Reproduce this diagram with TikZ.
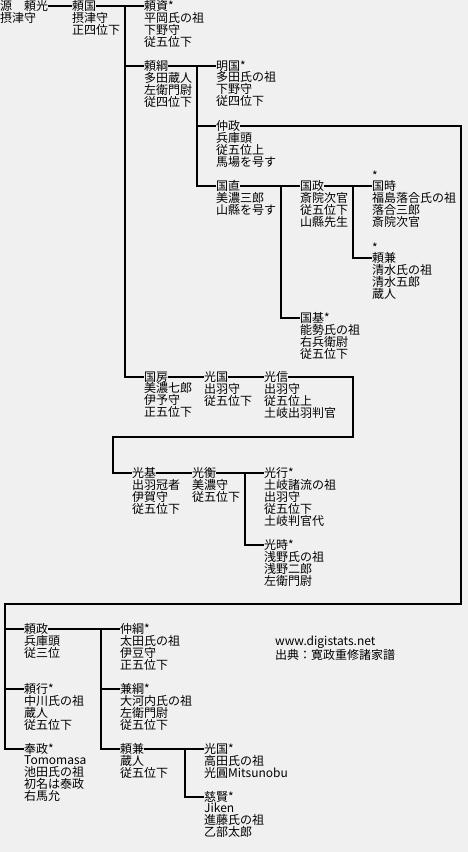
\documentclass[tikz,border=0pt]{standalone}
\usepackage{fontspec}
\setmainfont{Noto Sans CJK JP}
\usetikzlibrary{positioning, calc}
\definecolor{paper}{HTML}{F0F0F0}
\tikzset{
  pname/.style={font=\fontsize{12}{12}\selectfont, inner sep=0pt, anchor=west},
  pinfo/.style={font=\fontsize{12}{12}\selectfont, inner sep=0pt, align=left, anchor=north west},
  kin/.style={line width=2pt, black},
}

\begin{document}
\begin{tikzpicture}[x=1pt, y=-1pt]
  \fill[paper] (0,0) rectangle (468,852);
  \node[pname] (yorimitsu) at (0,6) {源　頼光};
  \node[pinfo] (yorimitsu-i) at (yorimitsu.south west) {摂津守};
  \node[pname] (yorikuni) at (72,6) {頼国};
  \node[pinfo] (yorikuni-i) at (yorikuni.south west) {摂津守\\正四位下};
  \node[pname] (yorisuke) at (144,6) {頼資*};
  \node[pinfo] (yorisuke-i) at (yorisuke.south west) {平岡氏の祖\\下野守\\従五位下};
  \node[pname] (yoritsuna) at (144,66) {頼綱};
  \node[pinfo] (yoritsuna-i) at (yoritsuna.south west) {多田蔵人\\左衛門尉\\従四位下};
  \node[pname] (akikuni) at (216,66) {明国*};
  \node[pinfo] (akikuni-i) at (akikuni.south west) {多田氏の祖\\下野守\\従四位下};
  \node[pname] (nakamasa) at (216,126) {仲政};
  \node[pinfo] (nakamasa-i) at (nakamasa.south west) {兵庫頭\\従五位上\\馬場を号す};
  \node[pname] (kuninao) at (216,186) {国直};
  \node[pinfo] (kuninao-i) at (kuninao.south west) {美濃三郎\\山縣を号す};
  \node[pname] (kunimasa) at (300,186) {国政};
  \node[pinfo] (kunimasa-i) at (kunimasa.south west) {斎院次官\\従五位下\\山縣先生};
  \node[pname] (kunitoki) at (372,186) {国時};
  \node[pname, anchor=south west] (kunitoki-s) at (kunitoki.north west) {*};
  \node[pinfo] (kunitoki-i) at (kunitoki.south west) {福島落合氏の祖\\落合三郎\\斎院次官};
  \node[pname] (yorikaneA) at (372,258) {頼兼};
  \node[pname, anchor=south west] (yorikaneA-s) at (yorikaneA.north west) {*};
  \node[pinfo] (yorikaneA-i) at (yorikaneA.south west) {清水氏の祖\\清水五郎\\蔵人};
  \node[pname] (kunimoto) at (300,318) {国基*};
  \node[pinfo] (kunimoto-i) at (kunimoto.south west) {能勢氏の祖\\右兵衛尉\\従五位下};
  \node[pname] (kunifusa) at (144,377) {国房};
  \node[pinfo] (kunifusa-i) at (kunifusa.south west) {美濃七郎\\伊予守\\正五位下};
  \node[pname] (mitsukuniA) at (204,377) {光国};
  \node[pinfo] (mitsukuniA-i) at (mitsukuniA.south west) {出羽守\\従五位下};
  \node[pname] (mitsunobu) at (264,377) {光信};
  \node[pinfo] (mitsunobu-i) at (mitsunobu.south west) {出羽守\\従五位上\\土岐出羽判官};
  \node[pname] (mitsumoto) at (132,473) {光基};
  \node[pinfo] (mitsumoto-i) at (mitsumoto.south west) {出羽冠者\\伊賀守\\従五位下};
  \node[pname] (mitsuhira) at (192,473) {光衡};
  \node[pinfo] (mitsuhira-i) at (mitsuhira.south west) {美濃守\\従五位下};
  \node[pname] (mitsuyuki) at (264,473) {光行*};
  \node[pinfo] (mitsuyuki-i) at (mitsuyuki.south west) {土岐諸流の祖\\出羽守\\従五位下\\土岐判官代};
  \node[pname] (mitsutoki) at (264,545) {光時*};
  \node[pinfo] (mitsutoki-i) at (mitsutoki.south west) {浅野氏の祖\\浅野二郎\\左衛門尉};
  \node[pname] (yorimasa) at (24,629) {頼政};
  \node[pinfo] (yorimasa-i) at (yorimasa.south west) {兵庫頭\\従三位};
  \node[pname] (nakatsuna) at (120,629) {仲綱*};
  \node[pinfo] (nakatsuna-i) at (nakatsuna.south west) {太田氏の祖\\伊豆守\\正五位下};
  \node[pname] (yoriyuki) at (24,689) {頼行*};
  \node[pinfo] (yoriyuki-i) at (yoriyuki.south west) {中川氏の祖\\蔵人\\従五位下};
  \node[pname] (kanetsuna) at (120,689) {兼綱*};
  \node[pinfo] (kanetsuna-i) at (kanetsuna.south west) {大河内氏の祖\\左衛門尉\\従五位下};
  \node[pname] (tomomasa) at (24,749) {奉政*};
  \node[pinfo] (tomomasa-i) at (tomomasa.south west) {\vphantom{国}Tomomasa\\池田氏の祖\\初名は泰政\\右馬允};
  \node[pname] (yorikaneB) at (120,749) {頼兼};
  \node[pinfo] (yorikaneB-i) at (yorikaneB.south west) {蔵人\\従五位下};
  \node[pname] (mitsukuniB) at (204,749) {光国*};
  \node[pinfo] (mitsukuniB-i) at (mitsukuniB.south west) {高田氏の祖\\光圓Mitsunobu};
  \node[pname] (jiken) at (204,797) {慈賢*};
  \node[pinfo] (jiken-i) at (jiken.south west) {\vphantom{国}Jiken\\進藤氏の祖\\乙部太郎};
  \node[pinfo] (source) at (275,636) {www.digistats.net\\出典：寛政重修諸家譜};

  \coordinate (j1) at (125,0);
  \coordinate (j2) at (197,0);
  \coordinate (j3) at (281,0);
  \coordinate (j4) at (353,0);
  \coordinate (j5) at (245,0);
  \coordinate (j6) at (101,0);
  \coordinate (j7) at (185,0);
  \coordinate (s1) at (353,437);
  \coordinate (s2) at (113,437);
  \coordinate (r1) at (461,604);
  \coordinate (l1) at (5,604);

  \draw[kin] (yorimitsu.east) -- (yorikuni.west);
  \draw[kin] (yorikuni.east) -- (yorisuke.west);
  \draw[kin] (j1 |- yorisuke.west) |- (kunifusa.west);
  \draw[kin] (j1 |- yoritsuna.west) -- (yoritsuna.west);
  \draw[kin] (yoritsuna.east) -- (akikuni.west);
  \draw[kin] (j2 |- akikuni.west) |- (kuninao.west);
  \draw[kin] (j2 |- nakamasa.west) -- (nakamasa.west);
  \draw[kin] (kuninao.east) -- (kunimasa.west);
  \draw[kin] (j3 |- kunimasa.west) |- (kunimoto.west);
  \draw[kin] (kunimasa.east) -- (kunitoki.west);
  \draw[kin] (j4 |- kunitoki.west) |- (yorikaneA.west);
  \draw[kin] (kunifusa.east) -- (mitsukuniA.west);
  \draw[kin] (mitsukuniA.east) -- (mitsunobu.west);
  \draw[kin] (mitsunobu.east) -| (s1) -- (s2) |- (mitsumoto.west);
  \draw[kin] (mitsumoto.east) -- (mitsuhira.west);
  \draw[kin] (mitsuhira.east) -- (mitsuyuki.west);
  \draw[kin] (j5 |- mitsuyuki.west) |- (mitsutoki.west);
  \draw[kin] (nakamasa.east) -| (r1) -- (l1) |- (tomomasa.west);
  \draw[kin] (l1 |- yorimasa.west) -- (yorimasa.west);
  \draw[kin] (l1 |- yoriyuki.west) -- (yoriyuki.west);
  \draw[kin] (yorimasa.east) -- (nakatsuna.west);
  \draw[kin] (j6 |- nakatsuna.west) |- (yorikaneB.west);
  \draw[kin] (j6 |- kanetsuna.west) -- (kanetsuna.west);
  \draw[kin] (yorikaneB.east) -- (mitsukuniB.west);
  \draw[kin] (j7 |- mitsukuniB.west) |- (jiken.west);
\end{tikzpicture}
\end{document}
